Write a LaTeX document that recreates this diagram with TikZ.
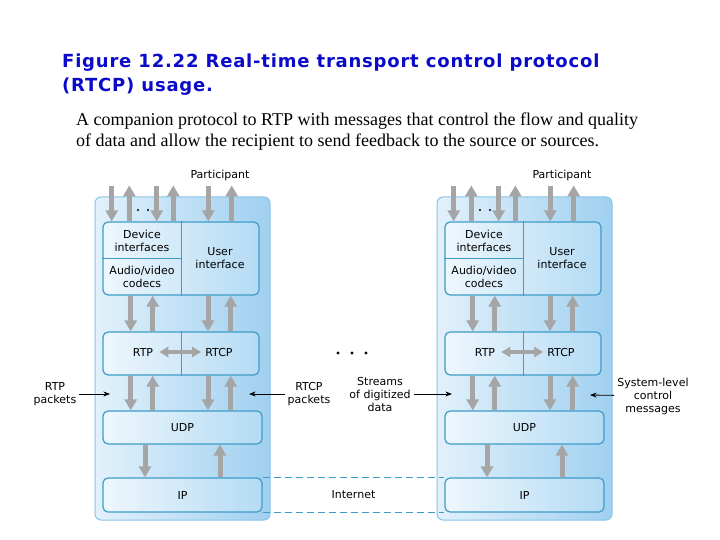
\documentclass[tikz,border=0pt]{standalone}
\usepackage{fontspec}
\setmainfont{Liberation Serif}
\newfontfamily\headfont[LetterSpace=4.4]{DejaVu Sans}
\newfontfamily\labfont{DejaVu Sans}
\usetikzlibrary{arrows.meta,calc}
\definecolor{headblue}{RGB}{10,10,200}
\definecolor{arrgray}{RGB}{165,165,165}
\definecolor{stackpale}{RGB}{226,241,251}
\definecolor{stackdeep}{RGB}{160,208,240}
\definecolor{stackline}{RGB}{136,196,230}
\definecolor{boxpale}{RGB}{238,247,253}
\definecolor{boxdeep}{RGB}{180,219,244}
\definecolor{boxline}{RGB}{62,156,200}

\begin{document}
\begin{tikzpicture}[x=1pt,y=-1pt,>=Stealth,
    stack/.style={draw=stackline,line width=1pt,rounded corners=6pt,left color=stackpale,right color=stackdeep},
    layer/.style={draw=boxline,line width=1.2pt,rounded corners=5pt,left color=boxpale,right color=boxdeep,minimum width=156pt},
    lab/.style={font=\labfont\fontsize{11}{13}\selectfont,align=center,inner sep=1pt},
    garr/.style={draw=arrgray,line width=5pt,-{Triangle[length=11pt,width=12pt]}},
    gtwo/.style={draw=arrgray,line width=3.5pt,{Triangle[length=9pt,width=10pt]}-{Triangle[length=9pt,width=10pt]}},
    blk/.style={->,line width=0.8pt,shorten <=2pt}]
  \useasboundingbox (0,0) rectangle (720,540);
  % heading
  \node[anchor=west,inner sep=0,align=left,text=headblue,font=\headfont\bfseries\fontsize{18}{24}\selectfont] (head) at (62,75)
    {Figure 12.22 Real-time transport control protocol\\(RTCP) usage.};
  \node[anchor=west,inner sep=0,align=left,font=\fontsize{18}{21}\selectfont] (sub) at (76,132)
    {A companion protocol to RTP with messages that control the flow and quality\\of data and allow the recipient to send feedback to the source or sources.};
  % the two hosts
  \foreach \sx/\s in {0/l,342/r}{
    \begin{scope}[xshift=\sx pt]
      \path[stack] (95,197) rectangle (270,520);
      \node[lab] (part\s) at (220,175) {Participant};
      \node[layer,minimum height=73pt] (apps\s) at (181,258.5) {};
      \node[layer,minimum height=43pt] (rtp\s) at (181,353.5) {};
      \node[layer,minimum width=159pt,minimum height=33pt] (udp\s) at (182.5,427.5) {};
      \node[layer,minimum width=159pt,minimum height=34pt] (ip\s) at (182.5,495) {};
      \draw[boxline,line width=1pt] (apps\s.north) -- (apps\s.south);
      \draw[boxline,line width=1pt] (apps\s.west) -- (apps\s.center);
      \draw[boxline,line width=1pt] (rtp\s.north) -- (rtp\s.south);
      \node[lab] (dev\s) at (142,240.5) {Device\\interfaces};
      \node[lab] (codec\s) at (142,277) {Audio/video\\codecs};
      \node[lab] (user\s) at (220,258.5) {User\\interface};
      \node[lab,inner sep=6pt] (rtpt\s) at (143,352) {RTP};
      \node[lab,inner sep=4pt] (rtcpt\s) at (219,352) {RTCP};
      \node[lab] at (udp\s) {UDP};
      \node[lab] at (ip\s) {IP};
      \draw[gtwo] (rtpt\s) -- (rtcpt\s);
      % streams into and out of the applications
      \foreach \xd/\xu in {111.7/129.3,156.7/173.3,208.3/231.7}{
        \draw[garr] (part\s.south -| \xd,0) ++(0,4) -- (apps\s.north -| \xd,0);
        \draw[garr] (apps\s.north -| \xu,0) -- ++(0,-36);
      }
      \fill (138,210) circle (1.1pt) (148,210) circle (1.1pt);
      \foreach \xd/\xu in {130.7/152.7,208/230.7}{
        \draw[garr] (apps\s.south -| \xd,0) -- (rtp\s.north -| \xd,0);
        \draw[garr] (rtp\s.north -| \xu,0) -- (apps\s.south -| \xu,0);
        \draw[garr] (rtp\s.south -| \xd,0) -- (udp\s.north -| \xd,0);
        \draw[garr] (udp\s.north -| \xu,0) -- (rtp\s.south -| \xu,0);
      }
      \draw[garr] (udp\s.south -| 145,0) -- (ip\s.north -| 145,0);
      \draw[garr] (ip\s.north -| 220,0) -- (udp\s.south -| 220,0);
    \end{scope}
  }
  % internet between the hosts
  \draw[boxline,line width=1pt,dash pattern=on 7pt off 4pt] (ipl.north east) -- (ipr.north west);
  \draw[boxline,line width=1pt,dash pattern=on 7pt off 4pt] (ipl.south east) -- (ipr.south west);
  \node[lab] (net) at ($(ipl.east)!0.5!(ipr.west)$) {Internet};
  % side labels
  \fill (338,353) circle (1.6pt) (352,353) circle (1.6pt) (366,353) circle (1.6pt);
  \node[lab] (rtppk) at (55,394) {RTP\\packets};
  \node[lab] (rtcppk) at (309,394) {RTCP\\packets};
  \node[lab] (strm) at (380,394) {Streams\\of digitized\\data};
  \node[lab] (sysmsg) at (653,396) {System-level\\control\\messages};
  \coordinate (tipa) at (110,394);
  \coordinate (tipb) at (249,394);
  \coordinate (tipc) at (452,394);
  \coordinate (tipd) at (590,395);
  \draw[blk] (rtppk) -- (tipa);
  \draw[blk] (rtcppk) -- (tipb);
  \draw[blk] (strm) -- (tipc);
  \draw[blk] (sysmsg) -- (tipd);
\end{tikzpicture}
\end{document}
